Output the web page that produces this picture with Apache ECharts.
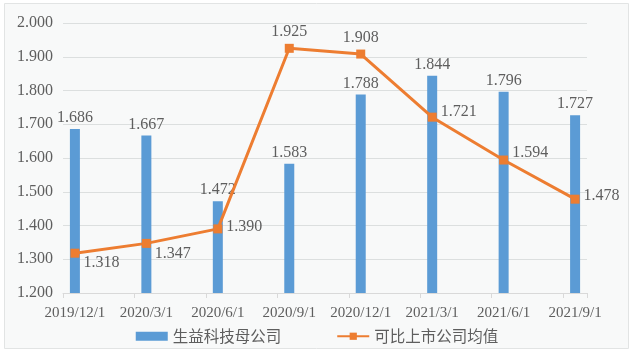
<!DOCTYPE html>
<html><head><meta charset="utf-8">
<script src="https://cdn.jsdelivr.net/npm/echarts@6/dist/echarts.min.js"></script>
<style>html,body{margin:0;padding:0;background:#fff}#c{width:634px;height:357px}</style>
</head><body><div id="c"></div>
<script>
const categories = ['2019/12/1','2020/3/1','2020/6/1','2020/9/1','2020/12/1','2021/3/1','2021/6/1','2021/9/1'];
const parentValues = [1.686,1.667,1.472,1.583,1.788,1.844,1.796,1.727];
const peerAvgValues = [1.318,1.347,1.390,1.925,1.908,1.721,1.594,1.478];
const yTicks = {min:1.2, max:2.0, step:0.1};
const seriesNames = ['生益科技母公司','可比上市公司均值'];

// label placement (style only) for line points
const lineLabelPlace = [
  {position:'right', offset:[0,10]},
  {position:'right', offset:[0,10]},
  {position:'right', offset:[0,-2]},
  {position:'top', offset:[0,0]},
  {position:'top', offset:[0,0]},
  {position:'right', offset:[0,-5]},
  {position:'right', offset:[0,-7]},
  {position:'right', offset:[0,-3]}
];

// build a monthly date axis (like Excel date axis, base unit month)
function parse(s){const p=s.split('/');return {y:+p[0],m:+p[1]};}
const first=parse(categories[0]), last=parse(categories[categories.length-1]);
const months=[];
let y=first.y,m=first.m;
while(y<last.y||(y===last.y&&m<=last.m)){months.push(y+'/'+m+'/1');m++;if(m>12){m=1;y++;}}
const barData=months.map(()=>null), lineData=months.map(()=>null);
categories.forEach((c,i)=>{
  const idx=months.indexOf(c);
  barData[idx]=parentValues[i];
  lineData[idx]={value:peerAvgValues[i],label:Object.assign({show:true},lineLabelPlace[i])};
});

const serif='"Liberation Serif","Times New Roman",serif';
const gray='#5e5e5e';
const chart=echarts.init(document.getElementById('c'));
chart.setOption({
  animation:false,
  backgroundColor:'#fff',
  graphic:[{type:'rect',z:-10,shape:{x:4.5,y:3.5,width:624,height:345},style:{fill:'#f8f9f9',stroke:'#e2e4e4',lineWidth:1}}],
  grid:{left:63,right:47,top:23,bottom:64,containLabel:false},
  legend:{
    bottom:8,left:'center',itemWidth:32,itemHeight:9,itemGap:55,
    textStyle:{fontFamily:'"Noto Sans CJK SC",sans-serif',fontSize:15.5,color:gray},
    data:[{name:seriesNames[0],icon:'rect'},{name:seriesNames[1]}]
  },
  xAxis:{
    type:'category',data:months,boundaryGap:true,
    axisLine:{lineStyle:{color:'#d9d9d9',width:1}},
    axisTick:{show:true,interval:(i)=>categories.indexOf(months[i])>=0,length:5,lineStyle:{color:'#d9d9d9'}},
    axisLabel:{interval:(i,v)=>categories.indexOf(v)>=0,fontFamily:serif,fontSize:15,color:gray,margin:13}
  },
  yAxis:{
    type:'value',min:yTicks.min,max:yTicks.max,interval:yTicks.step,
    axisLine:{show:false},axisTick:{show:false},
    axisLabel:{formatter:(v)=>v.toFixed(3),fontFamily:serif,fontSize:16,color:gray,margin:10},
    splitLine:{lineStyle:{color:'#dcdfdf',width:1}}
  },
  series:[
    {name:seriesNames[0],type:'bar',data:barData,barWidth:10,itemStyle:{color:'#5b9bd5'},
     label:{show:true,position:'top',distance:3,fontFamily:serif,fontSize:16,color:gray,formatter:(p)=>p.value.toFixed(3)}},
    {name:seriesNames[1],type:'line',data:lineData,connectNulls:true,symbol:'rect',symbolSize:9,
     lineStyle:{color:'#ed7d31',width:3},itemStyle:{color:'#ed7d31'},
     label:{show:true,distance:4,fontFamily:serif,fontSize:16,color:gray,formatter:(p)=>p.value.toFixed(3)}}
  ]
});
</script></body></html>
